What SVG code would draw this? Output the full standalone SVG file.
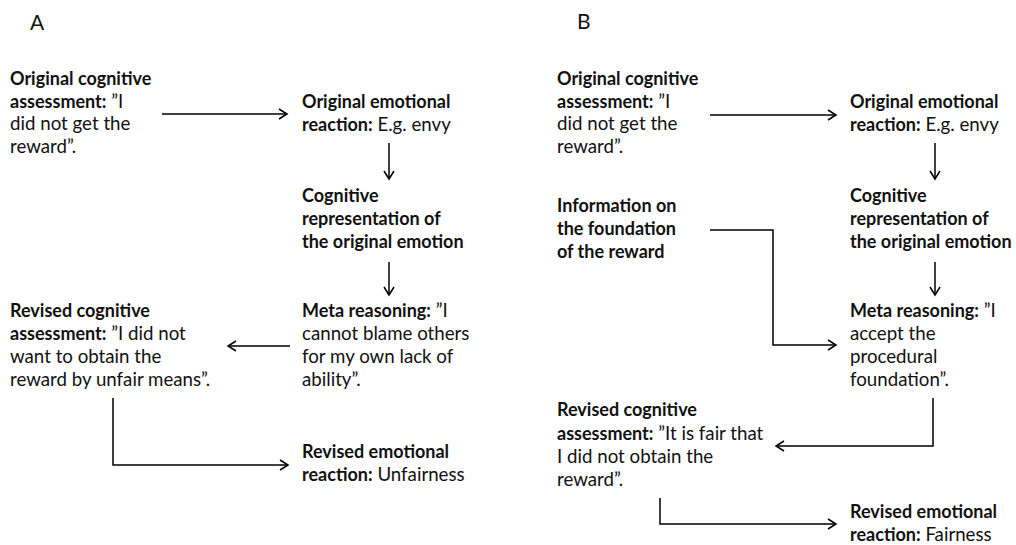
<svg xmlns="http://www.w3.org/2000/svg" width="1016" height="545" viewBox="0 0 1016 545">
<defs>
<marker id="arr" markerUnits="userSpaceOnUse" markerWidth="12" markerHeight="12" viewBox="0 0 12 12" refX="9" refY="6" orient="auto">
<path d="M1,1 L9,6 L1,11" fill="none" stroke="#000" stroke-width="1.5"/>
</marker>
<style>
text{font-family:Lato,"Liberation Sans",sans-serif;font-size:18.7px;fill:#111}
.b{font-weight:bold;font-size:18px}
.lbl{font-size:21px;font-weight:normal}
.c{fill:none;stroke:#000;stroke-width:1.5}
.c path{marker-end:url(#arr)}
</style>
</defs>
<rect width="1016" height="545" fill="#fff"/>
<text class="lbl" x="30" y="30">A</text>
<text class="lbl" x="577" y="29">B</text>

<g class="c" id="connectors">
<path d="M162,114 H287"/>
<path d="M389,143 V179"/>
<path d="M389,262 V295"/>
<path d="M290,346 H228"/>
<path d="M113,398 V465 H288"/>
<path d="M710,115 H836"/>
<path d="M935,143 V179"/>
<path d="M935,262 V295"/>
<path d="M710,230 H773 V345 H836"/>
<path d="M933,398 V446 H776"/>
<path d="M660,498 V524 H836"/>
</g>

<g id="a1"><text x="10" y="85"><tspan class="b">Original cognitive</tspan><tspan x="10" y="108"><tspan class="b">assessment:</tspan> ”I</tspan><tspan x="10" y="130">did not get the</tspan><tspan x="10" y="153">reward”.</tspan></text></g>
<g id="a2"><text x="302" y="108"><tspan class="b">Original emotional</tspan><tspan x="302" y="131"><tspan class="b">reaction:</tspan> E.g. envy</tspan></text></g>
<g id="a3"><text x="302" y="202" class="b">Cognitive<tspan x="302" y="225">representation of</tspan><tspan x="302" y="248">the original emotion</tspan></text></g>
<g id="a4"><text x="302" y="317"><tspan class="b">Meta reasoning:</tspan> ”I<tspan x="302" y="340">cannot blame others</tspan><tspan x="302" y="363">for my own lack of</tspan><tspan x="302" y="386">ability”.</tspan></text></g>
<g id="a5"><text x="10" y="317"><tspan class="b">Revised cognitive</tspan><tspan x="10" y="340"><tspan class="b">assessment:</tspan> ”I did not</tspan><tspan x="10" y="363">want to obtain the</tspan><tspan x="10" y="386">reward by unfair means”.</tspan></text></g>
<g id="a6"><text x="302" y="458"><tspan class="b">Revised emotional</tspan><tspan x="302" y="481"><tspan class="b">reaction:</tspan> Unfairness</tspan></text></g>

<g id="b1"><text x="557" y="85"><tspan class="b">Original cognitive</tspan><tspan x="557" y="108"><tspan class="b">assessment:</tspan> ”I</tspan><tspan x="557" y="130">did not get the</tspan><tspan x="557" y="153">reward”.</tspan></text></g>
<g id="b2"><text x="850" y="108"><tspan class="b">Original emotional</tspan><tspan x="850" y="131"><tspan class="b">reaction:</tspan> E.g. envy</tspan></text></g>
<g id="b3"><text x="850" y="202" class="b">Cognitive<tspan x="850" y="225">representation of</tspan><tspan x="850" y="248">the original emotion</tspan></text></g>
<g id="binfo"><text x="557" y="212" class="b">Information on<tspan x="557" y="235">the foundation</tspan><tspan x="557" y="258">of the reward</tspan></text></g>
<g id="b4"><text x="850" y="317"><tspan class="b">Meta reasoning:</tspan> ”I<tspan x="850" y="340">accept the</tspan><tspan x="850" y="363">procedural</tspan><tspan x="850" y="386">foundation”.</tspan></text></g>
<g id="b5"><text x="557" y="416"><tspan class="b">Revised cognitive</tspan><tspan x="557" y="440"><tspan class="b">assessment:</tspan> ”It is fair that</tspan><tspan x="557" y="463">I did not obtain the</tspan><tspan x="557" y="486">reward”.</tspan></text></g>
<g id="b6"><text x="850" y="518"><tspan class="b">Revised emotional</tspan><tspan x="850" y="541"><tspan class="b">reaction:</tspan> Fairness</tspan></text></g>
</svg>
